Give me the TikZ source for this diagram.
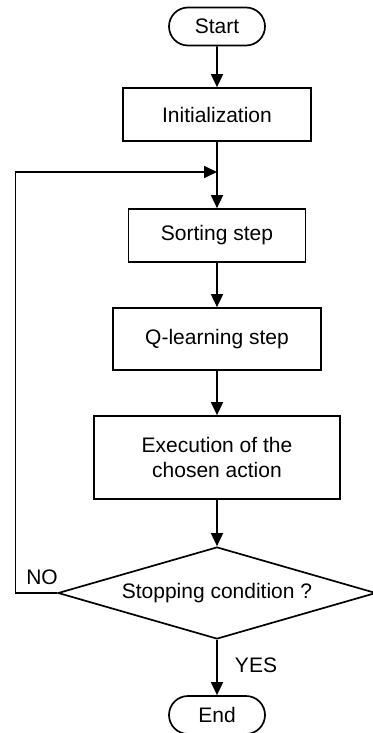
\documentclass[tikz,border=0pt]{standalone}
\usepackage{fontspec}
\setmainfont{Liberation Sans}
\usetikzlibrary{shapes.geometric}
\usetikzlibrary{shapes.misc}
\usetikzlibrary{arrows.meta}

\tikzset{
    box/.style={draw, line width=1.7pt, rectangle, align=center, inner sep=0pt},
    terminal/.style={draw, line width=1.7pt, rounded rectangle, minimum width=96pt, minimum height=38pt, inner sep=0pt},
    decision/.style={draw, line width=1.7pt, diamond, aspect=3.4, minimum width=318pt, minimum height=92pt, inner sep=0pt},
    flow/.style={line width=1.7pt, -{Triangle[length=13pt, width=12pt]}}
}

\begin{document}
\begin{tikzpicture}[x=1pt, y=-1pt, font=\fontsize{21}{25}\selectfont]
    \useasboundingbox (0, 0) rectangle (372, 733);
    \node[terminal](start) at (217, 26.5){Start};
    \node[box, minimum width=188pt, minimum height=53pt](init) at (217, 114.5){Initialization};
    \node[box, minimum width=177pt, minimum height=53pt](sort) at (217, 235.5){Sorting step};
    \node[box, minimum width=208pt, minimum height=62pt](qlearn) at (217, 339){Q-learning step};
    \node[box, minimum width=246pt, minimum height=83pt](exec) at (217, 457.5){Execution of the\\chosen action};
    \node[decision](cond) at (217, 593){Stopping condition ?};
    \node[terminal](end) at (217, 715){End};
    \coordinate(join) at (217, 172);
    \coordinate(back) at (15.5, 593);
    \draw[flow](start)--(init);
    \draw[flow](init)--(sort);
    \draw[flow](sort)--(qlearn);
    \draw[flow](qlearn)--(exec);
    \draw[flow](exec)--(cond);
    \draw[flow](cond)--(end);
    \draw[flow](cond.west)--(back)|-(join);
    \node(no) at (42, 577){NO};
    \node(yes) at (256, 665){YES};
\end{tikzpicture}
\end{document}
